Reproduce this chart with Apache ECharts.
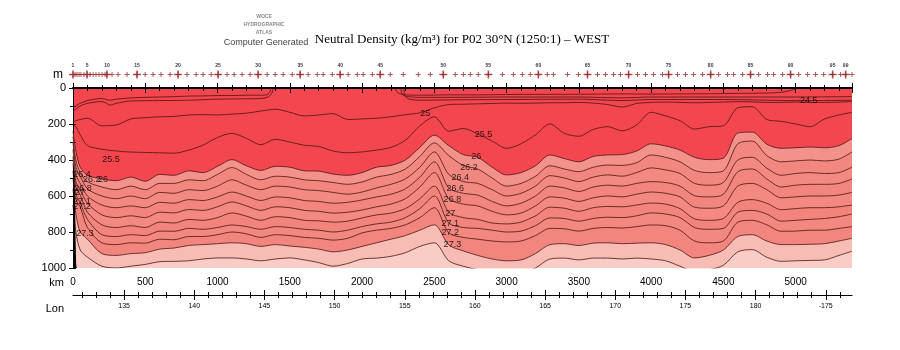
<!DOCTYPE html>
<html><head><meta charset="utf-8">
<script src="https://cdn.jsdelivr.net/npm/echarts@6/dist/echarts.min.js"></script>
<style>html,body{margin:0;padding:0;background:#fff}#c{width:900px;height:350px}</style>
</head><body><div id="c"></div>
<script>
// ---- distance grid (km) shared by the main isopycnals ----
const KM = [0,20,50,100,200,300,400,500,600,700,
  800,900,1000,1100,1200,1300,1400,1500,1600,1700,
  1800,1900,2000,2100,2200,2300,2400,2500,2600,2700,
  2800,2900,3000,3100,3200,3300,3400,3500,3600,3700,
  3800,3900,4000,4100,4200,4300,4400,4500,4600,4700,
  4800,4900,5000,5100,5200,5300,5390];

// depth (m) of each neutral density surface along KM
const D25 = [190,182,175,168,210,205,172,165,160,158,
  150,148,150,145,140,128,118,135,155,150,
  142,175,172,168,160,148,138,110,92,90,
  88,86,84,85,84,82,82,80,84,92,
  106,86,80,78,80,82,80,78,76,77,
  80,80,78,80,80,78,75];
const D255 = [200,215,260,320,340,350,356,358,360,362,
  345,317,275,252,280,315,285,300,318,325,
  350,360,355,345,330,290,210,160,240,225,
  255,295,335,310,260,200,252,268,230,215,
  238,205,135,155,182,228,215,210,110,104,
  175,185,200,215,172,150,135];
const D260 = [240,350,440,485,505,515,495,518,480,485,
  460,470,435,398,432,458,435,440,460,462,
  478,485,470,440,430,400,330,262,320,370,
  385,440,483,470,432,372,392,410,380,372,
  370,350,310,322,345,385,398,390,250,245,
  312,335,332,328,332,320,280];
const D262 = [270,400,470,520,550,565,545,565,530,530,
  510,515,480,442,480,510,490,495,510,515,
  525,535,522,495,480,450,380,305,375,430,
  450,500,545,530,490,432,450,465,440,428,
  430,415,372,385,410,458,470,460,310,295,
  375,410,405,400,405,395,355];
const D264 = [300,440,490,560,600,615,600,615,580,585,
  565,570,545,510,540,565,545,550,565,570,
  580,590,578,555,535,505,440,355,480,520,
  530,565,600,585,545,487,500,520,495,483,
  490,470,444,455,475,530,540,525,400,385,
  445,485,475,470,475,470,440];
const D266 = [340,480,530,600,650,665,655,665,635,640,
  620,625,605,578,600,625,605,610,625,630,
  640,635,622,605,590,560,495,410,555,585,
  595,630,655,640,600,545,555,575,550,540,
  545,530,520,525,545,598,605,590,465,450,
  505,550,540,535,535,530,505];
const D268 = [380,520,567,640,705,720,710,720,690,694,
  675,680,660,633,655,680,660,665,680,685,
  695,690,678,660,645,615,550,470,615,645,
  655,685,705,695,655,605,612,630,610,600,
  605,590,578,585,605,662,668,655,545,530,
  565,610,605,600,600,595,580];
const D270 = [420,550,594,690,760,775,765,775,745,750,
  730,735,720,694,712,735,715,720,735,738,
  745,740,722,705,695,670,615,545,690,720,
  730,750,755,745,710,662,668,685,665,658,
  660,650,639,645,670,727,735,725,635,620,
  640,676,670,665,665,660,650];
const D271 = [460,590,639,730,815,825,815,820,795,796,
  780,785,775,761,770,785,770,775,785,790,
  800,790,770,755,745,720,670,600,750,775,
  780,790,800,795,765,722,725,740,725,718,
  720,710,694,700,720,775,785,780,690,680,
  700,740,735,730,725,715,700];
const D272 = [500,620,660,775,860,870,860,862,840,843,
  825,825,815,800,810,830,815,820,830,835,
  845,835,805,790,780,760,720,665,805,830,
  840,850,855,850,820,780,782,795,780,775,
  778,770,761,765,790,850,860,850,745,735,
  760,796,795,790,790,780,770];
const D273 = [560,700,800,840,920,930,920,915,895,889,
  875,870,865,860,865,880,870,878,885,895,
  910,900,880,860,840,820,790,760,872,905,
  930,950,960,955,920,870,865,875,862,860,
  865,862,860,870,900,944,930,900,825,815,
  850,870,870,868,865,850,835];
const D274 = [650,800,900,940,990,1000,990,980,965,963,
  960,950,944,944,950,960,950,944,955,970,
  990,975,950,945,935,915,880,860,960,990,
  1010,1030,1040,1030,1000,950,945,955,945,945,
  950,945,950,960,990,1020,1010,985,910,898,
  940,963,960,958,955,930,907];

// shallow surfaces that outcrop (null = gap)
const SA_KM = [0,50,100,150,200,250,300,400,500,600,700,800,900,1000,1100,1200,1300,1340,1360,1370,1800,
  2230,2240,2260,2300,2400,2600,2800,3000,3200,3400,3600,3800,4000,4200,4400,4600,4800,4900,4960,5000,5010];
const SA_D = [110,85,70,62,58,68,62,55,52,50,48,45,44,42,42,40,40,38,25,0,null,
  0,20,32,38,40,38,38,36,35,35,34,33,34,33,32,30,28,24,15,5,0];
const SB_KM = [0,50,100,200,260,300,400,600,800,1000,1200,1300,1350,1375,1385,1800,
  2270,2275,2300,2400,2600,3000,3500,3800,4000,4500,5000,5390];
const SB_D = [130,100,85,75,95,85,72,70,68,62,60,58,50,30,0,null,
  0,30,45,52,52,50,50,55,50,50,50,48];
const SC_KM = [2290,2295,2320,2400,2600,3000,3500,3800,4000,4500,5000,5390];
const SC_D = [0,40,60,68,66,64,62,70,64,64,70,68];

// bottom topography at the western wall
const BOT_KM = [0,8,14,18,22,26];
const BOT_D = [430,450,650,850,980,1000];

// contour labels: text, km, depth
const LBL_TXT = ['24.5','25','25.5','25.5','26','26.2','26.4','26.6','26.8','27','27.1','27.2','27.3',
  '26.4','26.2','26','26.8','27','27.1','27.2','27.3'];
const LBL_KM = [5090,2438,2840,263,2790,2740,2680,2645,2625,2610,2610,2610,2625,
  62,130,208,70,48,62,62,83];
const LBL_D = [72,139,261,400,383,439,500,561,617,700,755,805,872,
  478,511,511,556,583,633,656,806];

// stations (km) and the numbered ones
const ST_KM = [0,14,28,42,55,76,97,118,139,159,180,201,222,235,270,312,374,443,499,554,609,672,727,789,852,900,956,1004,
  1066,1115,1170,1226,1281,1343,1399,1454,1517,1572,1627,1690,1731,1794,1849,1904,1967,2008,2071,2126,2195,2285,2389,
  2472,2562,2645,2701,2749,2804,2874,2971,3047,3109,3164,3220,3282,3324,3421,3497,3560,3629,3684,3740,3788,3844,
  3906,3961,4017,4079,4121,4183,4238,4294,4356,4412,4467,4529,4571,4633,4688,4744,4806,4848,4910,4965,5021,5083,
  5138,5194,5256,5311,5346,5390];
const BIG_KM = [0,97,235,443,727,1004,1281,1572,1849,2126,2562,2874,3220,3560,3844,4121,4412,4688,4965,5256,5346];
const BIG_NUM = ['1','5','10','15','20','25','30','35','40','45','50','55','60','65','70','75','80','85','90','95','99'];

// axis ticks / labels
const Y_MIN = 0, Y_MAX = 1000, Y_STEP = 200;
const KM_MAX = 5390, KM_STEP = 500;
const LON_MIN = 131.36, LON_MAX = 186.87;
const LON_TICKS = [132,133,134,135,136,137,138,139,140,141,142,143,144,145,146,147,148,149,150,151,152,153,154,155,156,157,158,159,160,
  161,162,163,164,165,166,167,168,169,170,171,172,173,174,175,176,177,178,179,180,181,182,183,184,185,186];
const LON_MAJOR = [135,140,145,150,155,160,165,170,175,180,185];
const LON_LABEL = ['135','140','145','150','155','160','165','170','175','180','-175'];

const TOP_RED = '#f4464e';
const LINE_C = '#4a1414';
const FILLS = [
  {d:D260, c:'#f3928a'},
  {d:D262, c:'#f2877f'},
  {d:D264, c:'#f38a82'},
  {d:D266, c:'#f2857d'},
  {d:D268, c:'#f38981'},
  {d:D270, c:'#f2847c'},
  {d:D271, c:'#f38880'},
  {d:D272, c:'#f2857d'},
  {d:D273, c:'#f7bdb5'},
  {d:D274, c:'#f9cdc6'}
];

const pairs = (xs, ys) => xs.map((x, i) => [x, ys[i]]);
const plain = v => String(v);

const series = [];
FILLS.forEach((f, i) => {
  series.push({
    type:'line', xAxisIndex:0, yAxisIndex:0, data:pairs(KM, f.d), smooth:0.3, symbol:'none',
    lineStyle:{color:LINE_C, width:0.8}, areaStyle:{color:f.c, opacity:1, origin:'end'}, z:2, silent:true
  });
});
[[KM, D255],[KM, D25],[SA_KM, SA_D],[SB_KM, SB_D],[SC_KM, SC_D]].forEach(([xs, ys]) => {
  series.push({
    type:'line', xAxisIndex:0, yAxisIndex:0, data:pairs(xs, ys), smooth:0.3, symbol:'none',
    connectNulls:false, lineStyle:{color:LINE_C, width:0.8}, z:3, silent:true
  });
});
series.push({
  type:'line', xAxisIndex:0, yAxisIndex:0, data:pairs(BOT_KM, BOT_D), symbol:'none',
  lineStyle:{width:0}, areaStyle:{color:'#000', opacity:1, origin:'end'}, z:4, silent:true
});
series.push({
  type:'scatter', xAxisIndex:0, yAxisIndex:0, symbolSize:0, z:5, silent:true,
  data:LBL_KM.map((k, i) => [k, LBL_D[i], LBL_TXT[i]]),
  label:{show:true, position:'inside', formatter:p => p.data[2], color:'#000',
    fontSize:9, fontFamily:'Liberation Sans'}
});
const PLUS = 'path://M4,0H6V4H10V6H6V10H4V6H0V4H4Z';
series.push({
  type:'scatter', xAxisIndex:7, yAxisIndex:3, symbol:PLUS, symbolSize:5, silent:true,
  itemStyle:{color:'#9a2a2a'}, data:ST_KM.map(k => [k, 0])
});
series.push({
  type:'scatter', xAxisIndex:7, yAxisIndex:3, symbol:PLUS, symbolSize:8, silent:true,
  itemStyle:{color:'#9a2a2a'}, data:BIG_KM.map((k, i) => [k, 0, BIG_NUM[i]]),
  label:{show:true, position:'top', distance:2, formatter:p => p.data[2], fontSize:5,
    color:'#000', fontFamily:'Liberation Sans', fontWeight:'bold'}
});

const blk = {lineStyle:{color:'#000', width:1}};
const option = {
  animation:false,
  backgroundColor:'#fff',
  grid:[
    {left:73, top:88, width:779, height:180, show:true, backgroundColor:TOP_RED, borderWidth:0},
    {left:73, top:294, width:779, height:1},
    {left:73, top:74, width:779, height:1}
  ],
  xAxis:[
    {gridIndex:0, type:'value', position:'bottom', min:0, max:KM_MAX, interval:KM_STEP,
     axisLine:{show:true, ...blk}, splitLine:{show:false},
     axisTick:{show:true, inside:true, length:5, lineStyle:{color:'#000'}},
     minorTick:{show:true, splitNumber:5, length:3, lineStyle:{color:'#000'}},
     axisLabel:{show:true, margin:9, fontSize:10, color:'#000', fontFamily:'Liberation Sans', showMaxLabel:false, formatter:plain}},
    {gridIndex:0, type:'value', position:'top', min:0, max:KM_MAX, interval:KM_STEP,
     axisLine:{show:true, lineStyle:{color:'#000', width:2}}, splitLine:{show:false},
     axisTick:{show:true, inside:true, length:5, lineStyle:{color:'#000'}},
     minorTick:{show:true, splitNumber:5, length:3, lineStyle:{color:'#000'}},
     axisLabel:{show:false}},
    {gridIndex:1, type:'value', position:'bottom', min:LON_MIN, max:LON_MAX,
     axisLine:{show:true, ...blk}, axisTick:{show:false}, axisLabel:{show:false}, splitLine:{show:false}},
    {gridIndex:1, type:'value', position:'bottom', min:LON_MIN, max:LON_MAX,
     axisLine:{show:false}, splitLine:{show:false}, axisLabel:{show:false},
     axisTick:{show:true, inside:false, length:3, customValues:LON_TICKS, lineStyle:{color:'#000'}}},
    {gridIndex:1, type:'value', position:'bottom', min:LON_MIN, max:LON_MAX,
     axisLine:{show:false}, splitLine:{show:false}, axisLabel:{show:false},
     axisTick:{show:true, inside:true, length:3, customValues:LON_TICKS, lineStyle:{color:'#000'}}},
    {gridIndex:1, type:'value', position:'bottom', min:LON_MIN, max:LON_MAX,
     axisLine:{show:false}, splitLine:{show:false},
     axisTick:{show:true, inside:false, length:5, customValues:LON_MAJOR, lineStyle:{color:'#000'}},
     axisLabel:{show:true, margin:8, customValues:LON_MAJOR, fontSize:7, color:'#000', fontFamily:'Liberation Sans',
       formatter:v => LON_LABEL[LON_MAJOR.indexOf(Math.round(v))]}},
    {gridIndex:1, type:'value', position:'bottom', min:LON_MIN, max:LON_MAX,
     axisLine:{show:false}, splitLine:{show:false}, axisLabel:{show:false},
     axisTick:{show:true, inside:true, length:5, customValues:LON_MAJOR, lineStyle:{color:'#000'}}},
    {gridIndex:2, type:'value', min:0, max:KM_MAX, show:false}
  ],
  yAxis:[
    {gridIndex:0, type:'value', position:'left', inverse:true, min:Y_MIN, max:Y_MAX, interval:Y_STEP,
     axisLine:{show:true, ...blk}, splitLine:{show:false},
     axisTick:{show:true, inside:false, length:4, lineStyle:{color:'#000'}},
     minorTick:{show:true, splitNumber:2, length:3, lineStyle:{color:'#000'}},
     axisLabel:{show:true, margin:7, fontSize:11, color:'#000', fontFamily:'Liberation Sans', formatter:plain}},
    {gridIndex:0, type:'value', position:'right', inverse:true, min:Y_MIN, max:Y_MAX, interval:100,
     axisLine:{show:true, ...blk}, splitLine:{show:false},
     axisTick:{show:true, inside:false, length:3, lineStyle:{color:'#000'}}, axisLabel:{show:false}},
    {gridIndex:1, type:'value', show:false, min:0, max:1},
    {gridIndex:2, type:'value', show:false, min:-1, max:1}
  ],
  graphic:[
    {type:'text', x:462, y:40, style:{text:'Neutral Density (kg/m\u00b3) for P02 30\u00b0N (1250:1) \u2013 WEST',
      font:'13px "Liberation Serif"', fill:'#000', textAlign:'center', textVerticalAlign:'middle'}},
    {type:'text', x:264, y:17, style:{text:'WOCE', font:'bold 5px "Liberation Sans"', fill:'#888', textAlign:'center', textVerticalAlign:'middle'}},
    {type:'text', x:264, y:25, style:{text:'HYDROGRAPHIC', font:'bold 5px "Liberation Sans"', fill:'#888', textAlign:'center', textVerticalAlign:'middle'}},
    {type:'text', x:264, y:33, style:{text:'ATLAS', font:'bold 5px "Liberation Sans"', fill:'#888', textAlign:'center', textVerticalAlign:'middle'}},
    {type:'text', x:266, y:43, style:{text:'Computer Generated', font:'9px "Liberation Sans"', fill:'#444', textAlign:'center', textVerticalAlign:'middle'}},
    {type:'text', x:63, y:75, style:{text:'m', font:'12px "Liberation Sans"', fill:'#000', textAlign:'right', textVerticalAlign:'middle'}},
    {type:'text', x:64, y:283, style:{text:'km', font:'11px "Liberation Sans"', fill:'#000', textAlign:'right', textVerticalAlign:'middle'}},
    {type:'text', x:64, y:309, style:{text:'Lon', font:'11px "Liberation Sans"', fill:'#000', textAlign:'right', textVerticalAlign:'middle'}}
  ],
  series:series
};
const chart = echarts.init(document.getElementById('c'));
chart.setOption(option);
</script>
</body></html>
